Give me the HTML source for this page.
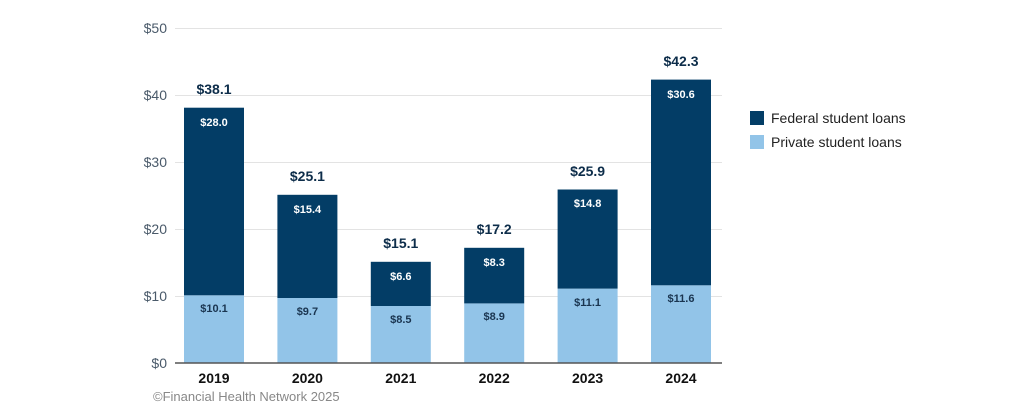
<!DOCTYPE html>
<html><head><style>body{margin:0;background:#fff}svg{display:block}text{font-family:"Liberation Sans",sans-serif}</style></head><body>
<svg width="1024" height="407" xmlns="http://www.w3.org/2000/svg">
<g stroke="#e3e3e3" stroke-width="1">
<line x1="175" x2="722" y1="28.5" y2="28.5"/><line x1="175" x2="722" y1="95.5" y2="95.5"/><line x1="175" x2="722" y1="162.5" y2="162.5"/><line x1="175" x2="722" y1="229.5" y2="229.5"/><line x1="175" x2="722" y1="296.5" y2="296.5"/>
</g>
<g fill="#4a5a6a" font-size="14" text-anchor="end">
<text x="167" y="33">$50</text><text x="167" y="100">$40</text><text x="167" y="167">$30</text><text x="167" y="234">$20</text><text x="167" y="301">$10</text><text x="167" y="368">$0</text>
</g>
<g fill="#92c4e8">
<rect x="184" y="295.3" width="60" height="67.7"/>
<rect x="277.4" y="298" width="60" height="65"/>
<rect x="370.8" y="306" width="60" height="57"/>
<rect x="464.2" y="303.4" width="60" height="59.6"/>
<rect x="557.6" y="288.6" width="60" height="74.4"/>
<rect x="651" y="285.3" width="60" height="77.7"/>
</g>
<g fill="#033d66">
<rect x="184" y="107.7" width="60" height="187.6"/>
<rect x="277.4" y="194.8" width="60" height="103.2"/>
<rect x="370.8" y="261.8" width="60" height="44.2"/>
<rect x="464.2" y="247.8" width="60" height="55.6"/>
<rect x="557.6" y="189.5" width="60" height="99.1"/>
<rect x="651" y="79.6" width="60" height="205.7"/>
</g>
<g font-size="11" font-weight="bold" fill="#1a3550" text-anchor="middle">
<text x="214" y="312">$10.1</text><text x="307.4" y="315">$9.7</text><text x="400.8" y="323">$8.5</text><text x="494.2" y="320">$8.9</text><text x="587.6" y="306">$11.1</text><text x="681" y="302">$11.6</text>
</g>
<g font-size="11" font-weight="bold" fill="#fff" text-anchor="middle">
<text x="214" y="126">$28.0</text><text x="307.4" y="213">$15.4</text><text x="400.8" y="280">$6.6</text><text x="494.2" y="266">$8.3</text><text x="587.6" y="207">$14.8</text><text x="681" y="98">$30.6</text>
</g>
<g font-size="14" font-weight="bold" fill="#0d2d4a" text-anchor="middle">
<text x="214" y="94">$38.1</text><text x="307.4" y="181">$25.1</text><text x="400.8" y="248">$15.1</text><text x="494.2" y="234">$17.2</text><text x="587.6" y="176">$25.9</text><text x="681" y="66">$42.3</text>
</g>
<g font-size="14" font-weight="bold" fill="#111" text-anchor="middle">
<text x="214" y="383">2019</text><text x="307.4" y="383">2020</text><text x="400.8" y="383">2021</text><text x="494.2" y="383">2022</text><text x="587.6" y="383">2023</text><text x="681" y="383">2024</text>
</g>
<line x1="175" x2="722" y1="363" y2="363" stroke="#555" stroke-width="1.5"/>
<rect x="750" y="111" width="14" height="14" fill="#033d66"/>
<rect x="750" y="135" width="14" height="14" fill="#92c4e8"/>
<text x="771" y="123" font-size="14" fill="#222">Federal student loans</text>
<text x="771" y="147" font-size="14" fill="#222">Private student loans</text>
<text x="153" y="401" font-size="13" fill="#888">©Financial Health Network 2025</text>
</svg>
</body></html>
